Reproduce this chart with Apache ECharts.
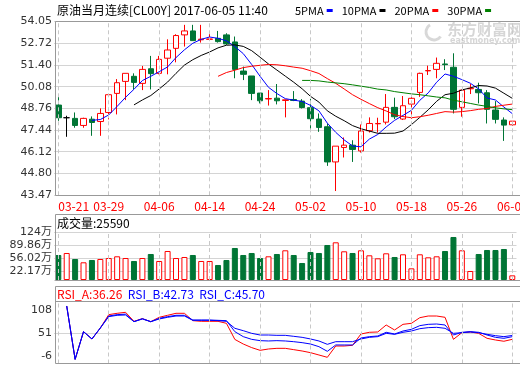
<!DOCTYPE html>
<html><head><meta charset="utf-8">
<script src="https://cdn.jsdelivr.net/npm/echarts@6/dist/echarts.min.js"></script>
<style>html,body{margin:0;padding:0;background:#fff}#c{width:520px;height:365px}</style>
</head><body><div id="c"></div>
<script>
const dates = ['03-21','03-22','03-23','03-24','03-27','03-28','03-29','03-30','03-31','04-03','04-04','04-05','04-06','04-07','04-10','04-11','04-12','04-13','04-14','04-17','04-18','04-19','04-20','04-21','04-24','04-25','04-26','04-27','04-28','05-01','05-02','05-03','05-04','05-05','05-08','05-09','05-10','05-11','05-12','05-15','05-16','05-17','05-18','05-19','05-22','05-23','05-24','05-25','05-26','05-29','05-30','05-31','06-01','06-02','06-05'];
const openP = [48.96,48.19,48.15,47.72,48.10,47.96,48.51,49.67,50.40,50.71,50.28,51.17,50.89,51.81,52.41,53.23,53.47,52.93,52.96,53.02,53.23,52.80,51.03,50.73,49.69,49.33,49.38,49.24,49.30,49.20,48.80,48.11,47.64,45.50,46.38,46.52,46.17,47.40,47.82,47.92,48.82,48.11,49.02,49.73,51.04,51.13,51.46,51.26,48.82,49.95,49.91,49.71,48.66,48.05,47.76];
const closeP = [48.19,48.19,47.72,48.15,47.90,48.45,49.59,50.32,50.89,50.34,51.13,50.87,51.74,52.31,53.19,53.47,52.88,52.97,52.98,52.82,52.68,51.13,50.83,49.67,49.22,49.36,49.22,49.28,49.24,48.81,48.13,47.60,45.50,46.46,46.52,46.26,47.38,47.84,47.84,48.82,48.25,48.92,49.37,50.89,51.06,51.50,51.42,48.70,49.87,49.98,49.71,48.70,48.09,47.74,47.98];
const lowP = [48.00,47.03,47.58,47.58,47.09,47.09,48.09,48.39,49.26,49.91,49.87,49.91,50.83,50.83,51.56,52.52,52.88,52.76,52.92,52.76,52.62,50.59,50.48,49.26,49.06,48.93,49.00,48.21,49.20,48.75,47.33,47.33,45.26,43.73,45.77,45.50,46.07,47.29,47.29,47.78,48.11,48.05,48.11,49.46,50.79,50.59,51.09,48.45,48.25,49.63,49.06,47.84,47.84,46.78,47.70];
const highP = [49.51,48.31,48.51,48.19,48.27,48.76,49.59,50.54,50.89,50.89,51.34,51.95,51.95,52.96,53.27,53.84,53.84,53.84,53.43,53.47,53.33,53.13,51.30,50.73,49.69,49.87,50.24,49.30,49.81,49.32,49.34,48.45,47.84,46.46,46.99,46.82,47.78,48.21,48.19,49.63,49.41,49.51,49.67,50.93,51.36,51.85,51.75,52.11,49.87,50.24,50.32,49.87,49.20,48.21,47.98];
const ma5 = ['-','-','-','-',48.03,48.08,48.36,48.88,49.43,49.92,50.45,50.71,50.99,51.28,51.85,52.32,52.72,52.96,53.10,53.02,52.87,52.52,52.09,51.43,50.71,50.04,49.66,49.35,49.26,49.18,48.94,48.61,47.86,47.30,46.84,46.47,46.42,46.89,47.17,47.63,48.03,48.33,48.64,49.25,49.70,50.35,50.85,50.71,50.51,50.29,49.94,49.39,49.27,48.84,48.44];
const ma10 = ['-','-','-','-','-','-','-','-','-',48.97,49.27,49.54,49.94,50.36,50.89,51.39,51.72,51.98,52.19,52.44,52.60,52.62,52.53,52.27,51.87,51.46,51.09,50.72,50.35,49.95,49.49,49.14,48.61,48.28,48.01,47.71,47.52,47.38,47.24,47.24,47.25,47.38,47.77,48.21,48.67,49.19,49.59,49.68,49.88,50.00,50.15,50.12,49.99,49.68,49.37];
const ma20 = ['-','-','-','-','-','-','-','-','-','-','-','-','-','-','-','-','-','-','-',50.71,50.94,51.08,51.24,51.32,51.38,51.43,51.41,51.35,51.27,51.20,51.05,50.88,50.57,50.28,49.94,49.59,49.31,49.05,48.80,48.60,48.37,48.26,48.19,48.25,48.34,48.45,48.56,48.53,48.56,48.62,48.70,48.75,48.88,48.95,49.02];
const ma30 = ['-','-','-','-','-','-','-','-','-','-','-','-','-','-','-','-','-','-','-','-','-','-','-','-','-','-','-','-','-',50.46,50.46,50.43,50.36,50.31,50.26,50.19,50.11,50.03,49.93,49.88,49.78,49.71,49.64,49.59,49.52,49.45,49.40,49.26,49.16,49.06,48.96,48.88,48.79,48.73,48.68];
const volume = [65.0,70.2,54.6,46.0,52.0,54.6,57.2,61.6,57.2,49.4,57.2,67.6,49.4,75.4,57.2,59.8,65.0,49.4,49.4,39.0,52.0,83.2,65.0,70.2,57.2,61.6,67.6,77.2,65.0,44.2,72.8,70.2,91.0,98.0,74.6,70.2,77.2,64.2,56.4,69.4,59.8,66.8,30.3,66.8,59.0,61.6,75.4,111.8,77.2,23.4,67.6,78.0,78.0,80.6,12.1];
const rsiA = ['-',117.8,-12.7,55.0,37.1,64.0,96.6,99.9,102.3,80.3,86.8,79.4,90.1,95.0,99.9,99.9,81.9,80.3,80.3,80.3,75.4,36.0,24.8,16.0,9.3,12.6,14.2,14.2,11.0,7.7,3.6,-2.1,-7.8,19.9,19.9,21.6,49.3,53.4,54.2,71.3,59.1,72.9,75.4,89.2,93.3,93.3,90.1,36.2,52.5,54.2,50.9,38.7,34.6,31.5,36.26];
const rsiB = ['-',117.8,-12.7,55.0,37.1,64.0,93.3,96.6,97.8,79.4,86.8,79.4,87.6,91.7,95.0,95.0,83.5,83.5,83.5,82.7,81.9,55.0,42.8,36.2,33.0,32.2,33.0,32.2,30.5,28.1,24.8,18.3,6.9,22.4,22.4,22.4,39.5,42.8,44.4,53.4,49.3,56.6,60.7,69.7,72.9,73.7,71.3,46.8,53.4,55.0,53.4,46.8,41.1,38.7,42.73];
const rsiC = ['-',117.8,-12.7,55.0,37.1,64.0,91.7,95.0,95.8,79.4,86.0,79.4,86.0,90.1,93.3,93.3,82.7,82.7,82.7,81.9,80.3,63.2,57.4,50.9,46.8,46.8,46.0,46.0,43.6,41.1,37.1,32.2,24.0,30.5,30.5,30.5,37.1,41.1,42.8,50.9,48.5,53.4,56.6,62.3,64.8,65.6,63.2,50.9,52.5,54.2,52.5,48.5,45.2,42.8,45.70];
const priceTicks = [43.47,44.80,46.12,47.44,48.76,50.08,51.40,52.72,54.05];
const volTicks = [0,22.17,56.02,89.86,124];
const rsiTicks = [-6,51,108];
const titleText = '原油当月连续[CL00Y] 2017-06-05 11:40';
const maNames = ['5PMA','10PMA','20PMA','30PMA'];
const volLabel = '成交量:25590';
const rsiLabels = ['RSI_A:36.26','RSI_B:42.73','RSI_C:45.70'];

const RED = '#ff0000', GREEN = '#007535', BLUE = '#0000ff', DKGREEN = '#008000';
const maColors = [BLUE, '#000', RED, DKGREEN];
const NARROW = "'Liberation Sans Narrow','Noto Sans CJK SC',sans-serif";
const NUMF = "'DejaVu Sans','Noto Sans CJK SC',sans-serif";
const chart = echarts.init(document.getElementById('c'), null, {renderer: 'canvas'});

const vLines = dates.filter((d, i) => i % 6 === 0).map(d => ({xAxis: d}));
const vMark = {
  silent: true, symbol: ['none', 'none'], animation: false,
  label: {show: false}, emphasis: {disabled: true},
  lineStyle: {type: [4, 3], color: '#c8c8c8', width: 1},
  data: vLines
};
const gridCommon = {left: 54.1, width: 462.4, show: false, outerBoundsMode: 'none', containLabel: false};
const xCommon = {
  type: 'category', data: dates, boundaryGap: true,
  axisLine: {show: false}, axisTick: {show: false}, splitLine: {show: false}
};
const upStyle = {color: '#fff', borderColor: RED, borderWidth: 1};
const downStyle = {color: GREEN, borderColor: GREEN, borderWidth: 1};

// legend row (text + colored dash), measured so the dash follows the text
const LEGEND_FONT = "11px " + NARROW;
const mctx = document.createElement('canvas').getContext('2d');
mctx.font = LEGEND_FONT;
const legendGraphics = [];
let lx = 295;
maNames.forEach((n, k) => {
  const w = mctx.measureText(n).width;
  legendGraphics.push({type: 'text', left: lx, top: 5, silent: true, style: {text: n, font: LEGEND_FONT, fill: '#000'}});
  legendGraphics.push({type: 'rect', silent: true, shape: {x: lx + w + 3, y: 9, width: 6, height: 3}, style: {fill: maColors[k]}});
  lx += w + 3 + 6 + 9;
});

const maSeries = [ma5, ma10, ma20, ma30].map((d, k) => ({
  type: 'line', name: maNames[k], data: d, color: maColors[k], showSymbol: false, symbol: 'none',
  lineStyle: {width: 1, color: maColors[k]}, z: 4
}));

const option = {
  animation: false,
  backgroundColor: '#fff',
  textStyle: {fontFamily: NUMF},
  grid: [
    Object.assign({top: 21.4, height: 173.9}, gridCommon),
    Object.assign({top: 232.3, height: 47.7}, gridCommon),
    Object.assign({top: 301, height: 62.5}, gridCommon)
  ],
  xAxis: [
    Object.assign({gridIndex: 0, axisLabel: {show: true, interval: 5, color: RED, fontSize: 12, margin: 5, fontFamily: NARROW, alignMinLabel: 'left'}}, xCommon),
    Object.assign({gridIndex: 1, axisLabel: {show: false}}, xCommon),
    Object.assign({gridIndex: 2, axisLabel: {show: false}}, xCommon)
  ],
  yAxis: [
    {gridIndex: 0, type: 'value', min: priceTicks[0], max: priceTicks[priceTicks.length - 1],
     axisLine: {show: false}, axisTick: {show: false, customValues: priceTicks},
     axisLabel: {customValues: priceTicks, formatter: v => v.toFixed(2), color: '#333', fontSize: 11, margin: 2, fontFamily: NUMF},
     splitLine: {show: true, lineStyle: {color: '#d4d4d4', width: 1}}},
    {gridIndex: 1, type: 'value', min: 0, max: volTicks[volTicks.length - 1],
     axisLine: {show: false}, axisTick: {show: false, customValues: volTicks},
     axisLabel: {customValues: volTicks, formatter: v => v === 0 ? '0' : v + '万', color: '#333', fontSize: 11, margin: 2, fontFamily: NUMF},
     splitLine: {show: true, lineStyle: {color: '#d4d4d4', width: 1}}},
    {gridIndex: 2, type: 'value', min: -22.9, max: 130,
     axisLine: {show: false}, axisTick: {show: false, customValues: rsiTicks},
     axisLabel: {customValues: rsiTicks, color: '#333', fontSize: 11, margin: 2, fontFamily: NUMF},
     splitLine: {show: true, lineStyle: {color: ['rgba(0,0,0,0)', '#d4d4d4', 'rgba(0,0,0,0)'], width: 1}}}
  ],
  series: [
    {type: 'candlestick', name: 'K', xAxisIndex: 0, yAxisIndex: 0, barWidth: 6,
     data: dates.map((d, i) => [openP[i], closeP[i], lowP[i], highP[i]]),
     itemStyle: {color: '#fff', color0: GREEN, borderColor: RED, borderColor0: GREEN, borderColorDoji: '#000', borderWidth: 1},
     markLine: vMark, z: 3}
  ].concat(maSeries).concat([
    {type: 'bar', name: 'VOL', xAxisIndex: 1, yAxisIndex: 1, barWidth: 6,
     data: volume.map((v, i) => ({value: v, itemStyle: closeP[i] >= openP[i] ? upStyle : downStyle})),
     markLine: vMark, z: 3},
    {type: 'line', name: 'RSI_A', xAxisIndex: 2, yAxisIndex: 2, data: rsiA, symbol: 'none', lineStyle: {width: 1, color: RED}, color: RED, markLine: vMark, z: 3},
    {type: 'line', name: 'RSI_C', xAxisIndex: 2, yAxisIndex: 2, data: rsiC, symbol: 'none', lineStyle: {width: 1, color: BLUE}, color: BLUE, z: 4},
    {type: 'line', name: 'RSI_B', xAxisIndex: 2, yAxisIndex: 2, data: rsiB, symbol: 'none', lineStyle: {width: 1, color: BLUE}, color: BLUE, z: 4}
  ]),
  graphic: [
    {type: 'text', left: 57, top: 4, silent: true, style: {text: titleText, font: "12px " + NARROW, fill: '#000'}},
    {type: 'arc', silent: true, z: 0, shape: {cx: 434, cy: 32, r: 8, startAngle: 0.6, endAngle: 4.2}, style: {stroke: '#d8d8d8', lineWidth: 3, fill: 'none'}},
    {type: 'text', left: 447, top: 22, silent: true, z: 0, style: {text: '东方财富网', font: "bold 15px 'Noto Sans CJK SC'", fill: '#d6d6d6'}},
    {type: 'text', left: 450, top: 37, silent: true, z: 0, style: {text: 'eastmoney.com', font: "bold 8px 'DejaVu Sans'", fill: '#d6d6d6'}},
    {type: 'rect', silent: true, z: 10, shape: {x: 55.5, y: 21.5, width: 466, height: 174}, style: {fill: 'none', stroke: '#999', lineWidth: 1}},
    {type: 'rect', silent: true, z: 10, shape: {x: 55.5, y: 214.5, width: 466, height: 66}, style: {fill: 'none', stroke: '#999', lineWidth: 1}},
    {type: 'rect', silent: true, z: 10, shape: {x: 55.5, y: 286.5, width: 466, height: 77}, style: {fill: 'none', stroke: '#999', lineWidth: 1}},
    {type: 'line', silent: true, z: 10, shape: {x1: 55.5, y1: 301.5, x2: 521, y2: 301.5}, style: {stroke: '#999', lineWidth: 1}},
    {type: 'text', left: 57, top: 217, silent: true, style: {text: volLabel, font: "12px " + NARROW, fill: '#000'}},
    {type: 'text', left: 57, top: 288, silent: true, style: {
      text: '{a|' + rsiLabels[0] + '}  {b|' + rsiLabels[1] + '}  {b|' + rsiLabels[2] + '}',
      font: "12px " + NARROW,
      rich: {a: {fill: RED, font: "12px " + NARROW}, b: {fill: BLUE, font: "12px " + NARROW}}}}
  ].concat(legendGraphics)
};
chart.setOption(option);
</script></body></html>
